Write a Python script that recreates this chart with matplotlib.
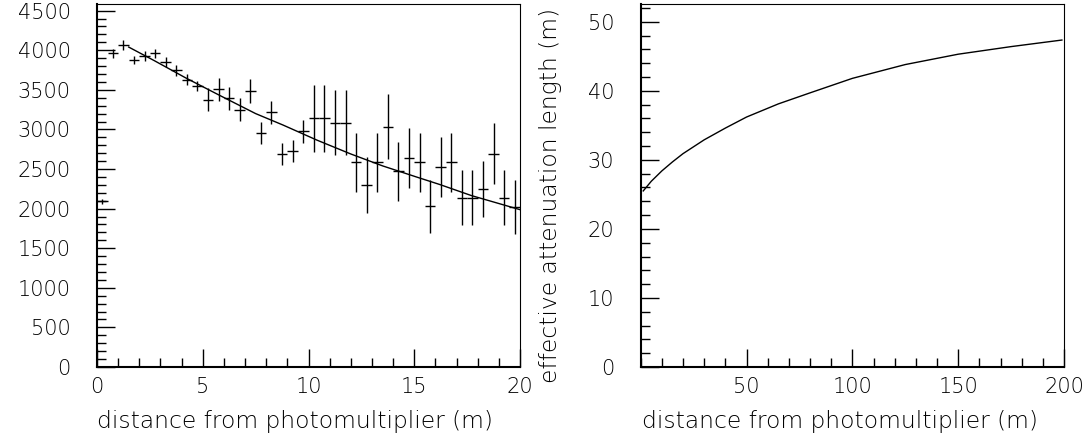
import matplotlib
matplotlib.use("Agg")
import matplotlib.pyplot as plt
from matplotlib.ticker import MultipleLocator, FixedLocator

plt.rcParams['font.family'] = ['DejaVu Sans']
plt.rcParams['font.weight'] = 'light'
plt.rcParams['axes.labelweight'] = 'light'

# ---- left panel: measured points ----
dist = [0.25, 0.75, 1.25, 1.75, 2.25, 2.75, 3.25, 3.75, 4.25, 4.75,
        5.25, 5.75, 6.25, 6.75, 7.25, 7.75, 8.25, 8.75, 9.25, 9.75,
        10.25, 10.75, 11.25, 11.75, 12.25, 12.75, 13.25, 13.75, 14.25, 14.75,
        15.25, 15.75, 16.25, 16.75, 17.25, 17.75, 18.25, 18.75, 19.25, 19.75]
signal = [2092, 3960, 4066, 3881, 3927, 3960, 3856, 3746, 3629, 3549,
          3377, 3507, 3393, 3251, 3490, 2957, 3217, 2692, 2722, 2974,
          3141, 3141, 3087, 3087, 2583, 2302, 2583, 3037, 2470, 2638,
          2583, 2029, 2524, 2583, 2138, 2138, 2251, 2692, 2138, 2020]
signal_err = [35, 57, 59, 52, 59, 57, 63, 67, 65, 67,
              143, 147, 147, 149, 151, 143, 147, 143, 139, 143,
              420, 420, 416, 416, 378, 353, 378, 412, 372, 382,
              378, 336, 378, 378, 347, 347, 353, 386, 347, 336]
bin_half = 0.25

# fit curve
fit_x = [1.5, 2.7, 4.2, 5.8, 7.5, 8.8, 10.4, 12.0, 13.5, 15.1, 16.2, 17.7, 20.0]
fit_y = [4040, 3870, 3650, 3430, 3200, 3055, 2865, 2690, 2540, 2400, 2305, 2165, 1987]

# ---- right panel: effective attenuation length ----
att_x = [1.2, 5.0, 10, 15, 20, 25, 30, 40, 50, 65, 80, 100, 125, 150, 175, 199]
att_y = [25.5, 26.9, 28.4, 29.7, 30.9, 31.9, 32.9, 34.6, 36.2, 38.1, 39.7, 41.8, 43.8, 45.3, 46.4, 47.35]

xlabel = "distance from photomultiplier (m)"
ylabel_r = "effective attenuation length (m)"

W, H = 1091, 446
fig = plt.figure(figsize=(W / 100, H / 100), dpi=100)

def px_axes(x0, x1, y0, y1):
    return fig.add_axes([x0 / W, 1 - y1 / H, (x1 - x0) / W, (y1 - y0) / H])

FS_TICK = 15
FS_LAB = 16.8
TXT = 'black'

def style(ax):
    for s in ['left', 'bottom']:
        ax.spines[s].set_linewidth(1.5)
    for s in ['top', 'right']:
        ax.spines[s].set_linewidth(0.8)
    ax.tick_params(which='both', direction='in', top=False, right=False,
                   labelsize=FS_TICK, width=1.0, color='black', labelcolor=TXT)
    ax.tick_params(which='major', length=13)
    ax.tick_params(which='minor', length=6.5)
    ax.tick_params(axis='y', pad=19)
    ax.tick_params(axis='x', pad=7)

AX_W, AX_H = 423.3, 363

ax1 = px_axes(97, 520, 4, 367)
ax1.errorbar(dist, signal, yerr=signal_err, xerr=bin_half, fmt='none',
             ecolor='black', elinewidth=1.0, capsize=0)
ax1.plot(fit_x, fit_y, color='black', lw=1.0)
ax1.set_xlim(0, 20)
ax1.set_ylim(0, 4584)
ax1.xaxis.set_major_locator(MultipleLocator(5))
ax1.xaxis.set_minor_locator(MultipleLocator(1))
ax1.yaxis.set_major_locator(MultipleLocator(500))
ax1.yaxis.set_minor_locator(MultipleLocator(100))
style(ax1)
ax1.set_xlabel(xlabel, fontsize=FS_LAB, color=TXT, fontweight='light')
ax1.xaxis.set_label_coords((295 - 97) / 423, -(410 - 367) / AX_H)

ax2 = px_axes(640.7, 1064, 4, 367)
ax2.plot(att_x, att_y, color='black', lw=1.0)
ax2.set_xlim(0, 200)
ax2.set_ylim(0, 52.57)
ax2.xaxis.set_major_locator(FixedLocator([50, 100, 150, 200]))
ax2.xaxis.set_minor_locator(MultipleLocator(10))
ax2.yaxis.set_major_locator(MultipleLocator(10))
ax2.yaxis.set_minor_locator(MultipleLocator(2))
style(ax2)
ax2.set_xlabel(xlabel, fontsize=FS_LAB, color=TXT, fontweight='light')
ax2.xaxis.set_label_coords((840 - 640.7) / AX_W, -(410 - 367) / AX_H)
ax2.set_ylabel(ylabel_r, fontsize=FS_LAB, color=TXT, fontweight='light')
ax2.yaxis.set_label_coords((562 - 640.7) / AX_W, (367 - 195) / AX_H)

fig.savefig("out.png", dpi=100)
